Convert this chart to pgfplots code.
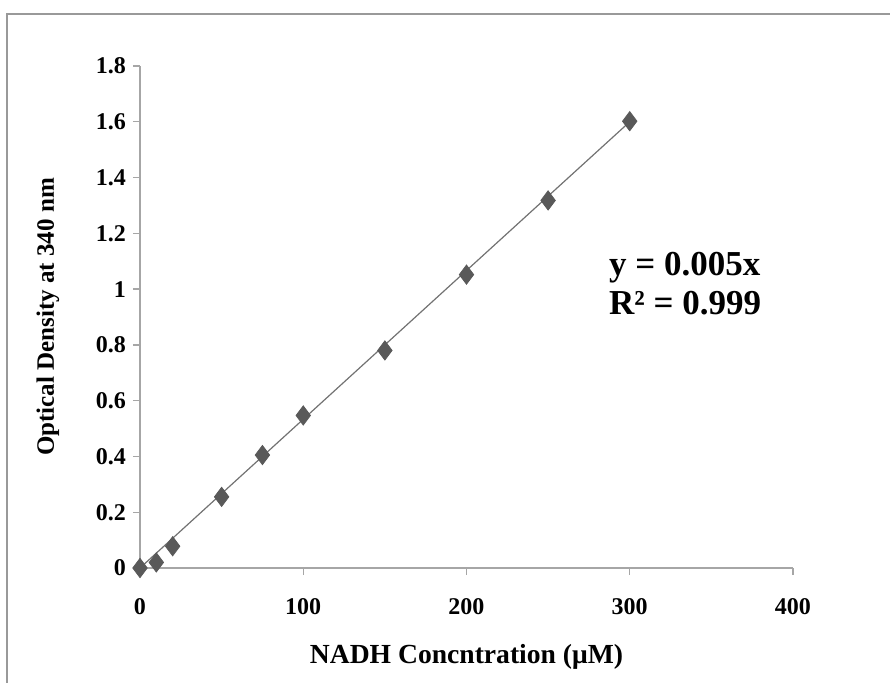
\documentclass[border=0pt]{standalone}
\usepackage{pgfplots}
\pgfplotsset{compat=1.18}
\usepackage{fontspec}
\setmainfont{Liberation Serif}
\definecolor{mk}{HTML}{595959}
\definecolor{ax}{HTML}{A6A6A6}
\begin{document}
\begin{tikzpicture}
% page = 890x682 px at 0.5pt per px, axis origin at px (140,568)
\path[use as bounding box] (-70pt,-57pt) rectangle (375pt,284pt);
\draw[color=gray!80, line width=1.2pt] (-66.5pt,-60pt) -- (-66.5pt,277pt) -- (378pt,277pt);
\begin{axis}[
  scale only axis,
  width=326.5pt, height=251pt,
  xmin=0, xmax=400, ymin=0, ymax=1.8,
  axis x line*=bottom, axis y line*=left,
  axis line style={ax, line width=0.7pt, -},
  xtick={0,100,...,400},
  ytick={0,0.2,...,1.8},
  tick style={ax, line width=0.7pt},
  tick align=outside,
  major tick length=3.5pt,
  /pgf/number format/assume math mode=true,
  yticklabel style={/pgf/number format/fixed, /pgf/number format/precision=1},
  ticklabel style={font=\bfseries\fontsize{12}{12}\selectfont},
  xticklabel style={yshift=-8pt},
  xlabel={NADH Concntration (μM)},
  ylabel={Optical Density at 340 nm},
  xlabel style={font=\bfseries\fontsize{13.8}{13.8}\selectfont, at={(axis description cs:0.5,0)}, anchor=center, yshift=-44.5pt},
  ylabel style={font=\bfseries\fontsize{12.5}{12.5}\selectfont, at={(axis description cs:0,0.5)}, anchor=center, yshift=46pt},
  clip=false,
]
\addplot[color=mk!85, line width=0.6pt] coordinates {(0,0) (300,1.6)};
\addplot[only marks, mark=diamond*, mark size=4.8pt, color=mk, mark options={fill=mk}] coordinates {
  (0,0) (10,0.02) (20,0.078) (50,0.255) (75,0.405) (100,0.547)
  (150,0.78) (200,1.052) (250,1.318) (300,1.602)
};
\node[anchor=west, align=left, font=\bfseries\fontsize{17.5}{19.5}\selectfont] at (axis cs:283,1.02) {y = 0.005x\\R² = 0.999};
\end{axis}
\end{tikzpicture}
\end{document}
